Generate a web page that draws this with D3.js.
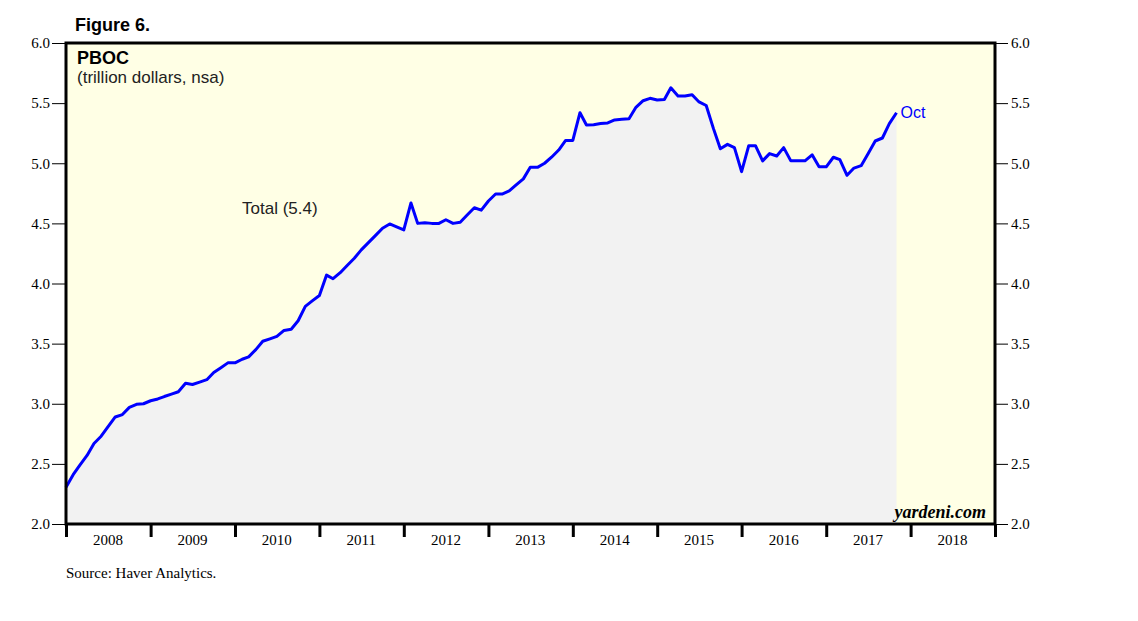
<!DOCTYPE html>
<html>
<head>
<meta charset="utf-8">
<script src="https://cdn.jsdelivr.net/npm/d3@7"></script>
<style>
  html, body { margin: 0; padding: 0; background: #fff; }
  svg { display: block; }
</style>
</head>
<body>
<svg id="chart" width="1138" height="621"></svg>
<script>
// Monthly values (trillion dollars), Dec 2007 through Oct 2017 (plotted at month end)
const startYear = 2007, startMonth = 11; // Dec 2007
const pbocTotal = [
  2.305, 2.41, 2.49, 2.57, 2.67, 2.73, 2.81, 2.89, 2.91, 2.97, 2.995, 3.00,
  3.025, 3.04, 3.06, 3.08, 3.10, 3.17, 3.16, 3.18, 3.20, 3.26, 3.30, 3.34,
  3.34, 3.37, 3.39, 3.45, 3.52, 3.54, 3.56, 3.61, 3.62, 3.69, 3.81, 3.855,
  3.90, 4.07, 4.04, 4.09, 4.15, 4.21, 4.28, 4.34, 4.40, 4.46, 4.495, 4.47,
  4.445, 4.67, 4.50, 4.505, 4.50, 4.50, 4.53, 4.50, 4.51, 4.57, 4.63, 4.61,
  4.686, 4.744, 4.744, 4.77, 4.82, 4.87, 4.966, 4.966, 5.00, 5.05, 5.11, 5.19,
  5.19, 5.42, 5.318, 5.32, 5.33, 5.335, 5.36, 5.365, 5.37, 5.465, 5.52, 5.54,
  5.526, 5.53, 5.628, 5.56, 5.56, 5.57, 5.51, 5.48, 5.29, 5.12, 5.157, 5.13,
  4.93, 5.146, 5.146, 5.02, 5.08, 5.06, 5.13, 5.02, 5.02, 5.02, 5.07, 4.97,
  4.97, 5.05, 5.03, 4.90, 4.96, 4.98, 5.08, 5.185, 5.21, 5.33, 5.42
];
const yTicks = [2.0, 2.5, 3.0, 3.5, 4.0, 4.5, 5.0, 5.5, 6.0];
const yearLabels = [2008, 2009, 2010, 2011, 2012, 2013, 2014, 2015, 2016, 2017, 2018];

// point i is plotted at the end of its month = first day of next month
const data = pbocTotal.map((v, i) => ({ date: new Date(startYear, startMonth + i + 1, 1), value: v }));

const svg = d3.select("#chart");
const L = 66, R = 995, T = 43, B = 524;
const SERIF = "Liberation Serif, Times New Roman, serif";
const SANS = "Liberation Sans, Arial, sans-serif";

const x = d3.scaleTime().domain([new Date(2008, 0, 1), new Date(2019, 0, 1)]).range([L, R]);
const y = d3.scaleLinear().domain([2, 6]).range([B, T]);

// plot background
svg.append("rect").attr("x", L).attr("y", T).attr("width", R - L).attr("height", B - T)
  .attr("fill", "#ffffe5");

// area under the line
const area = d3.area().x(d => x(d.date)).y0(B).y1(d => y(d.value));
svg.append("path").datum(data).attr("d", area).attr("fill", "#f2f2f2");

// line
const line = d3.line().x(d => x(d.date)).y(d => y(d.value));
svg.append("path").datum(data).attr("d", line)
  .attr("fill", "none").attr("stroke", "#0000ff").attr("stroke-width", 3)
  .attr("stroke-linejoin", "round");

// frame
svg.append("rect").attr("x", L).attr("y", T).attr("width", R - L).attr("height", B - T)
  .attr("fill", "none").attr("stroke", "#000").attr("stroke-width", 3);

// left y axis
const yLeft = d3.axisLeft(y).tickValues(yTicks).tickFormat(d3.format(".1f")).tickSize(13).tickPadding(2);
const gl = svg.append("g").attr("transform", `translate(${L - 1},0)`).call(yLeft);
// right y axis
const yRight = d3.axisRight(y).tickValues(yTicks).tickFormat(d3.format(".1f")).tickSize(12).tickPadding(3);
const gr = svg.append("g").attr("transform", `translate(${R + 1},0)`).call(yRight);
[gl, gr].forEach(g => {
  g.select(".domain").remove();
  g.selectAll(".tick line").attr("stroke", "#000").attr("stroke-width", 1);
  g.selectAll(".tick text").attr("font-family", SERIF)
    .attr("font-size", 15).attr("fill", "#000");
});

// x axis ticks at year boundaries
const yearStarts = d3.range(2008, 2020).map(yr => new Date(yr, 0, 1));
const xAxis = d3.axisBottom(x).tickValues(yearStarts).tickSize(13).tickFormat("");
const gx = svg.append("g").attr("transform", `translate(0,${B})`).call(xAxis);
gx.select(".domain").remove();
gx.selectAll(".tick line").attr("stroke", "#000").attr("stroke-width", 3);

// year labels centered between ticks
svg.append("g").selectAll("text").data(yearLabels).join("text")
  .attr("x", d => x(new Date(d, 6, 1)))
  .attr("y", 545)
  .attr("text-anchor", "middle")
  .attr("font-family", SERIF)
  .attr("font-size", 15)
  .attr("fill", "#000")
  .text(d => d);

// texts
svg.append("text").attr("x", 75).attr("y", 31)
  .attr("font-family", SANS).attr("font-weight", "bold")
  .attr("font-size", 18).text("Figure 6.");
svg.append("text").attr("x", 77).attr("y", 64)
  .attr("font-family", SANS).attr("font-weight", "bold")
  .attr("font-size", 18).text("PBOC");
svg.append("text").attr("x", 77).attr("y", 83)
  .attr("font-family", SANS)
  .attr("font-size", 17).attr("fill", "#222").text("(trillion dollars, nsa)");
svg.append("text").attr("x", 242).attr("y", 214)
  .attr("font-family", SANS)
  .attr("font-size", 17).attr("fill", "#222").text("Total (5.4)");
const last = data[data.length - 1];
svg.append("text").attr("x", x(last.date) + 4).attr("y", y(last.value) + 5)
  .attr("font-family", SANS)
  .attr("font-size", 16).attr("fill", "#0000ff").text("Oct");
svg.append("text").attr("x", 986).attr("y", 518).attr("text-anchor", "end")
  .attr("font-family", SERIF)
  .attr("font-weight", "bold").attr("font-style", "italic")
  .attr("font-size", 18).text("yardeni.com");
svg.append("text").attr("x", 66).attr("y", 578)
  .attr("font-family", SERIF)
  .attr("font-size", 15).text("Source: Haver Analytics.");
</script>
</body>
</html>
